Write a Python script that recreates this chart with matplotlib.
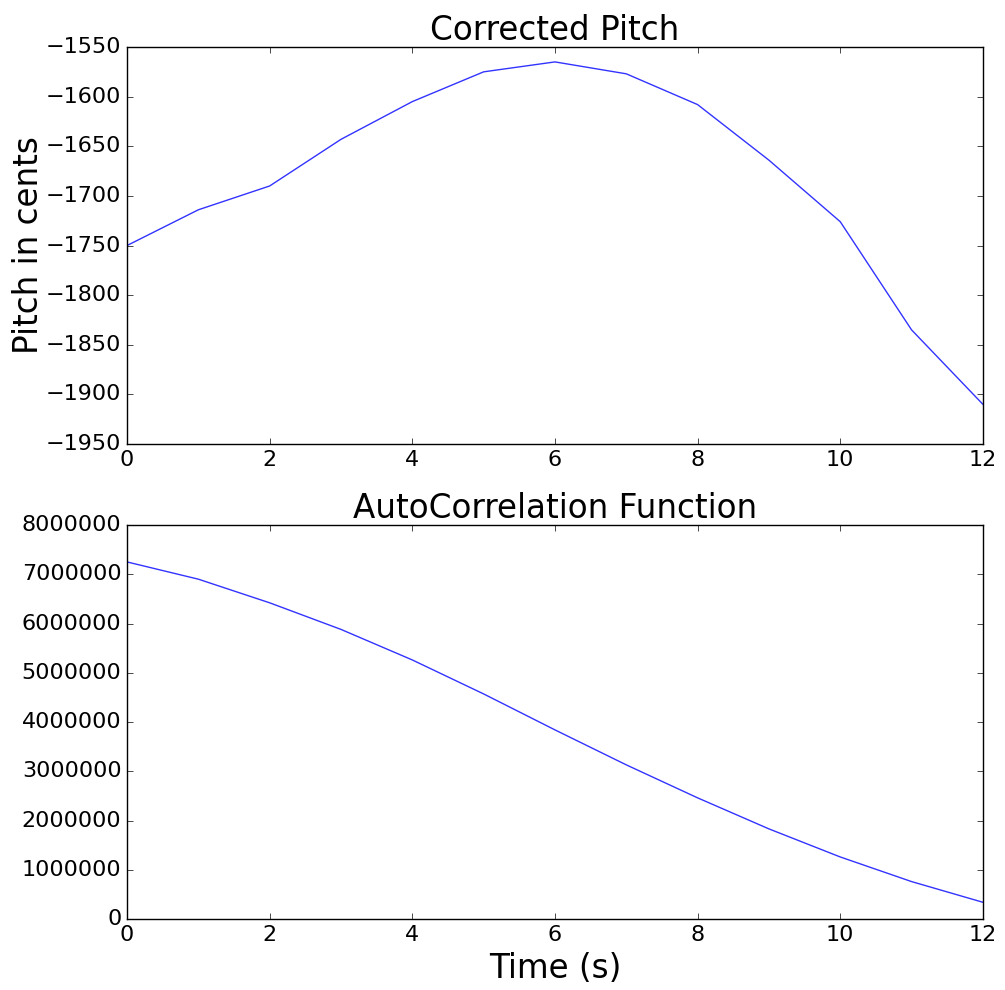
import numpy as np
import matplotlib
matplotlib.use('Agg')
import matplotlib.pyplot as plt

plt.style.use('classic')

# data
frames = np.arange(13)
pitch = [-1750, -1714, -1690, -1643, -1605, -1575, -1565,
         -1577, -1608, -1664, -1726, -1835, -1910]
acf = [7.25e6, 6.9e6, 6.42e6, 5.88e6, 5.26e6, 4.57e6, 3.84e6,
       3.13e6, 2.46e6, 1.83e6, 1.26e6, 0.76e6, 0.34e6]


def pitch_plot(fig):
    ax = fig.add_axes([0.1264, 0.5515, 0.8516, 0.401])
    ax.plot(frames, pitch, 'b-', lw=1.0, alpha=0.8)
    ax.set_xlim(0, 12)
    ax.set_ylim(-1950, -1550)
    ax.set_title('Corrected Pitch', fontsize=23.5)
    ax.set_ylabel('Pitch in cents', fontsize=23.5, labelpad=1)
    ax.tick_params(labelsize=16)


def acf_plot(fig):
    ax = fig.add_axes([0.1264, 0.0717, 0.8516, 0.398])
    ax.plot(frames, acf, 'b-', lw=1.0, alpha=0.8)
    ax.set_xlim(0, 12)
    ax.set_ylim(0, 8000000)
    ax.ticklabel_format(style='plain', axis='y', useOffset=False)
    ax.set_title('AutoCorrelation Function', fontsize=23.5)
    ax.set_xlabel('Time (s)', fontsize=23.5)
    ax.tick_params(labelsize=16)


if __name__ == "__main__":
    fig = plt.figure(figsize=(10.05, 9.9), dpi=100, facecolor='white')
    pitch_plot(fig)
    acf_plot(fig)
    fig.savefig("out.png", dpi=100, facecolor='white')
